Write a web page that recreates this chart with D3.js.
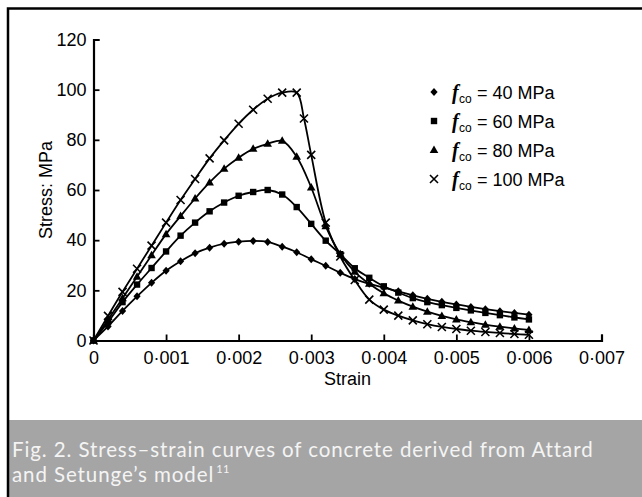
<!DOCTYPE html>
<html>
<head>
<meta charset="utf-8">
<script src="https://cdn.jsdelivr.net/npm/d3@7"></script>
<style>
  body { margin: 0; background: #fff; }
  svg { display: block; }
</style>
</head>
<body>
<svg width="642" height="497"></svg>
<script>
// strain values (x) shared by the 40, 60 and 80 MPa curves
var strain = [0, 0.0002, 0.0004, 0.0006, 0.0008, 0.001, 0.0012, 0.0014, 0.0016, 0.0018,
  0.002, 0.0022, 0.0024, 0.0026, 0.0028, 0.003, 0.0032, 0.0034, 0.0036, 0.0038,
  0.004, 0.0042, 0.0044, 0.0046, 0.0048, 0.005, 0.0052, 0.0054, 0.0056, 0.0058, 0.006];
// the 100 MPa curve has one extra point just after the peak
var strain100 = [0, 0.0002, 0.0004, 0.0006, 0.0008, 0.001, 0.0012, 0.0014, 0.0016, 0.0018,
  0.002, 0.0022, 0.0024, 0.0026, 0.0028, 0.0029, 0.003, 0.0032, 0.0034, 0.0036, 0.0038,
  0.004, 0.0042, 0.0044, 0.0046, 0.0048, 0.005, 0.0052, 0.0054, 0.0056, 0.0058, 0.006];

var stress40 = [0, 5.6, 11.8, 17.6, 23.0, 27.8, 31.6, 34.8, 37.0, 38.6, 39.4, 39.7, 39.3, 37.4, 35.2,
  32.4, 29.8, 27.0, 24.5, 22.6, 21.1, 19.6, 18.0, 16.6, 15.4, 14.4, 13.4, 12.5, 11.7, 11.0, 10.3];
var stress60 = [0, 7.3, 15.3, 22.3, 28.9, 35.5, 41.8, 47.0, 51.5, 55.0, 57.7, 59.2, 60.0, 58.2, 53.2,
  46.5, 39.8, 34.4, 28.8, 25.0, 21.6, 19.1, 16.9, 15.3, 14.1, 13.0, 12.0, 11.0, 10.1, 9.2, 8.4];
var stress80 = [0, 8.3, 16.8, 25.4, 34.0, 42.4, 49.6, 56.6, 63.0, 68.5, 72.9, 76.4, 78.4, 79.6, 73.3,
  61.0, 45.5, 34.5, 27.4, 22.6, 18.8, 15.9, 13.5, 11.5, 9.8, 8.4, 7.3, 6.3, 5.5, 4.8, 4.2];
var stress100 = [0, 9.8, 19.4, 28.6, 37.8, 47.0, 56.0, 64.4, 72.6, 79.8, 86.4, 92.0, 96.4, 98.8, 98.8,
  88.5, 74.0, 47.0, 33.5, 24.1, 16.3, 12.3, 9.9, 8.0, 6.5, 5.4, 4.6, 3.9, 3.4, 3.0, 2.6, 2.3];

var xTicks = [0, 0.001, 0.002, 0.003, 0.004, 0.005, 0.006, 0.007];
var xTickLabels = ["0", "0·001", "0·002", "0·003", "0·004", "0·005", "0·006", "0·007"];
var yTicks = [0, 20, 40, 60, 80, 100, 120];
var legendLabels = ["= 40 MPa", "= 60 MPa", "= 80 MPa", "= 100 MPa"];

var series = [
  {x: strain, y: stress40, mark: "diamond"},
  {x: strain, y: stress60, mark: "square"},
  {x: strain, y: stress80, mark: "triangle"},
  {x: strain100, y: stress100, mark: "cross"}
];

var svg = d3.select("svg");
var sans = "'Liberation Sans', Arial, sans-serif";

var x = d3.scaleLinear().domain([0, 0.007]).range([93.5, 601.5]);
var y = d3.scaleLinear().domain([0, 120]).range([340.5, 39.5]);

// frame + caption band
svg.append("rect").attr("x", 8).attr("y", 420).attr("width", 634).attr("height", 77)
  .attr("fill", "#a5a5a5");
svg.append("path").attr("d", "M8,497 V8.5 H642")
  .attr("fill", "none").attr("stroke", "#000").attr("stroke-width", 2.5);

// caption: one text block, two lines
var cap = svg.append("text")
  .style("font-family", "Lato, 'Open Sans', sans-serif")
  .style("font-size", "20.5px")
  .style("letter-spacing", "0.9px")
  .attr("fill", "#f4f4f4");
cap.append("tspan").attr("x", 12).attr("y", 457)
  .text("Fig. 2. Stress–strain curves of concrete derived from Attard");
cap.append("tspan").attr("x", 12).attr("y", 482).text("and Setunge’s model");
cap.append("tspan").attr("dx", 2).attr("dy", -9).style("font-size", "11px")
  .style("letter-spacing", "0.5px").text("11");

// axes
var gx = svg.append("g").attr("transform", "translate(0," + y(0) + ")")
  .call(d3.axisBottom(x).tickValues(xTicks).tickSize(-6).tickPadding(10)
    .tickFormat(function (d, i) { return xTickLabels[i]; }));
var gy = svg.append("g").attr("transform", "translate(" + x(0) + ",0)")
  .call(d3.axisLeft(y).tickValues(yTicks).tickSize(-6).tickPadding(7));

[gx, gy].forEach(function (g) {
  g.select(".domain").attr("stroke-width", 2.2);
  g.selectAll(".tick line").attr("stroke-width", 1.8);
  g.selectAll("text").style("font-family", sans).style("font-size", "18px").attr("fill", "#000");
});
gx.selectAll(".tick text").attr("dy", "0.75em");

svg.append("text").attr("x", x(0.0035)).attr("y", 385)
  .attr("text-anchor", "middle")
  .style("font-family", sans).style("font-size", "18px")
  .text("Strain");
svg.append("text").attr("transform", "translate(52,190) rotate(-90)")
  .attr("text-anchor", "middle")
  .style("font-family", sans).style("font-size", "18px")
  .text("Stress: MPa");

// marker shapes
function markPath(type) {
  if (type === "diamond") return "M0,-4 L3.6,0 L0,4 L-3.6,0 Z";
  if (type === "square") return "M-3.2,-3.2 H3.2 V3.2 H-3.2 Z";
  if (type === "triangle") return "M0,-4.5 L4.3,3 L-4.3,3 Z";
  return "M-4,-4 L4,4 M-4,4 L4,-4";
}
function drawMark(g, type, cx, cy) {
  var p = g.append("path").attr("d", markPath(type))
    .attr("transform", "translate(" + cx + "," + cy + ")");
  if (type === "cross") p.attr("fill", "none").attr("stroke", "#000").attr("stroke-width", 1.6);
  else p.attr("fill", "#000");
}

var line = d3.line().curve(d3.curveCatmullRom.alpha(0.5))
  .x(function (d) { return x(d[0]); })
  .y(function (d) { return y(d[1]); });

series.forEach(function (s) {
  var pts = s.x.map(function (v, i) { return [v, s.y[i]]; });
  svg.append("path").datum(pts).attr("d", line)
    .attr("fill", "none").attr("stroke", "#000").attr("stroke-width", 1.8);
  var g = svg.append("g");
  pts.forEach(function (p) { drawMark(g, s.mark, x(p[0]), y(p[1])); });
});

// legend
var lg = svg.append("g");
series.forEach(function (s, i) {
  var cy = 92 + i * 29;
  drawMark(lg, s.mark, 434, cy);
  lg.append("text").attr("x", 452).attr("y", cy + 7)
    .style("font-family", "'Liberation Serif', 'Times New Roman', serif")
    .style("font-size", "20px").style("font-weight", "bold").style("font-style", "italic")
    .text("f");
  lg.append("text").attr("x", 459).attr("y", cy + 11)
    .style("font-family", sans).style("font-size", "12px")
    .text("co");
  lg.append("text").attr("x", 477).attr("y", cy + 6.5)
    .style("font-family", sans).style("font-size", "18px")
    .text(legendLabels[i]);
});
</script>
</body>
</html>
